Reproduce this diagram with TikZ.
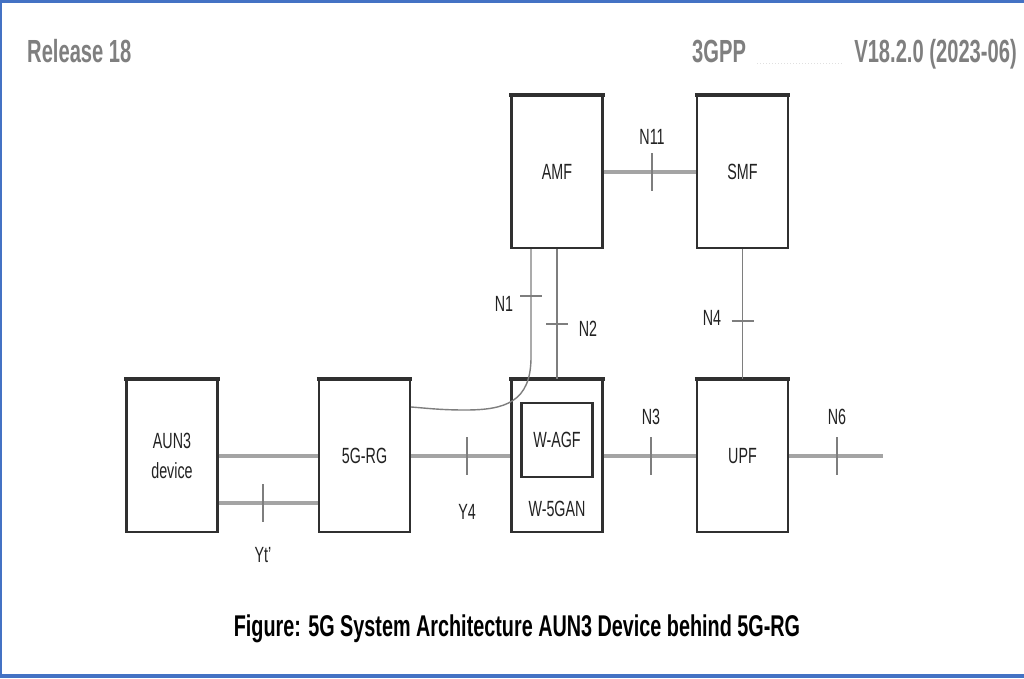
\documentclass[tikz,border=0pt]{standalone}
\usepackage{fontspec}
\newfontfamily\labfont[FakeStretch=0.65]{Liberation Sans}
\newfontfamily\hdrfont[FakeStretch=0.63]{Liberation Sans}
\newfontfamily\capfont[FakeStretch=0.66]{Liberation Sans}
\definecolor{frameblue}{HTML}{4472C4}
\definecolor{boxline}{HTML}{303030}
\definecolor{hline}{HTML}{A4A4A4}
\definecolor{vline}{HTML}{7E7E7E}
\definecolor{hdrgray}{HTML}{7F7F7F}
\definecolor{txt}{HTML}{222222}
\tikzset{
  nf/.style={draw=boxline, line width=2.2pt, rectangle, inner sep=0pt,
    minimum width=91pt, minimum height=152pt, font=\labfont\fontsize{22}{25}\selectfont, text=txt, align=center},
  inbox/.style={draw=boxline, line width=2.2pt, rectangle, inner sep=0pt,
    minimum width=71pt, minimum height=74pt, font=\labfont\fontsize{22}{25}\selectfont, text=txt},
  lbl/.style={font=\labfont\fontsize{22}{25}\selectfont, text=txt, inner sep=0pt},
  hconn/.style={draw=hline, line width=3.6pt},
  vconn/.style={draw=vline, line width=1.4pt},
  tick/.style={draw=vline, line width=1.4pt},
  topedge/.style={draw=boxline, line width=3.2pt},
}
\begin{document}
\begin{tikzpicture}[x=1pt, y=-1pt]
\useasboundingbox (0,0) rectangle (1024,678);
\fill[white] (0,0) rectangle (1024,678);
% frame
\fill[frameblue] (0,0) rectangle (1024,3);
\fill[frameblue] (0,0) rectangle (2,678);
\fill[frameblue] (0,674) rectangle (1024,678);
% header
\node[anchor=base west, inner sep=0pt, text=hdrgray, font=\hdrfont\bfseries\fontsize{32}{36}\selectfont] (rel) at (27,62) {Release 18};
\node[anchor=base west, inner sep=0pt, text=hdrgray, font=\hdrfont\bfseries\fontsize{32}{36}\selectfont] (gpp) at (692,62) {3GPP};
\node[anchor=base east, inner sep=0pt, text=hdrgray, font=\hdrfont\bfseries\fontsize{32}{36}\selectfont] (ver) at (1017,62) {V18.2.0 (2023-06)};
\draw[black!12, line width=1pt, dotted] (757,63) -- (843,63);
% boxes
\node[nf] (amf) at (557,172) {AMF};
\node[nf] (smf) at (742.5,172) {SMF};
\node[nf] (aun) at (172,456) {AUN3\\[5pt]device};
\node[nf] (rg) at (364.5,456) {5G-RG};
\node[nf] (wgan) at (557,456) {};
\node[inbox] (wagf) at (557,440) {W-AGF};
\node[lbl] (wganl) at (557,509) {W-5GAN};
\node[nf] (upf) at (742.5,456) {UPF};
\foreach \b in {amf,smf,aun,rg,wgan,upf}{
  \draw[topedge] ([xshift=-1.1pt]\b.north west) -- ([xshift=1.1pt]\b.north east);
}
% connectors
\draw[hconn] (amf.east) -- (smf.west);
\draw[hconn] (aun.east) -- (rg.west);
\draw[hconn] ([yshift=-47pt]aun.east) -- ([yshift=-47pt]rg.west);
\draw[hconn] (rg.east) -- (wgan.west);
\draw[hconn] (wgan.east) -- (upf.west);
\coordinate (n6end) at (883,456);
\draw[hconn] (upf.east) -- (n6end);
\draw[vconn] (amf.south) -- (wgan.north);
\draw[vconn] (smf.south) -- (upf.north);
\draw[vconn] ([xshift=-26pt]amf.south) -- ++(0,108)
  .. controls ++(0,45) and (505,410) .. (465,410)
  .. controls (440,410) and (425,408) .. ([yshift=49pt]rg.east);
% ticks
\coordinate (t11) at (652,172);
\coordinate (ty4) at (467,456);
\coordinate (tn3) at (651,456);
\coordinate (tn6) at (837,456);
\coordinate (tyt) at (263,503);
\coordinate (tn1) at (531,296);
\coordinate (tn2) at (557,324);
\coordinate (tn4) at (742.5,321);
\foreach \t in {t11,ty4,tn3,tn6,tyt}{\draw[tick] (\t) ++(0,-19) -- ++(0,38);}
\foreach \t in {tn1,tn2,tn4}{\draw[tick] (\t) ++(-11,0) -- ++(22,0);}
% labels
\node[lbl] (l11) at (652,137) {N11};
\node[lbl] (l1) at (504,304) {N1};
\node[lbl] (l2) at (588,329) {N2};
\node[lbl] (l4) at (712,318) {N4};
\node[lbl] (l3) at (651,417) {N3};
\node[lbl] (l6) at (837,417) {N6};
\node[lbl] (ly4) at (467,512) {Y4};
\node[lbl] (lyt) at (263,555) {Yt’};
% caption
\node[anchor=base, inner sep=0pt, text=black, font=\capfont\bfseries\fontsize{30}{34}\selectfont] (capt) at (517,636) {Figure: 5G System Architecture AUN3 Device behind 5G-RG};
\end{tikzpicture}
\end{document}
